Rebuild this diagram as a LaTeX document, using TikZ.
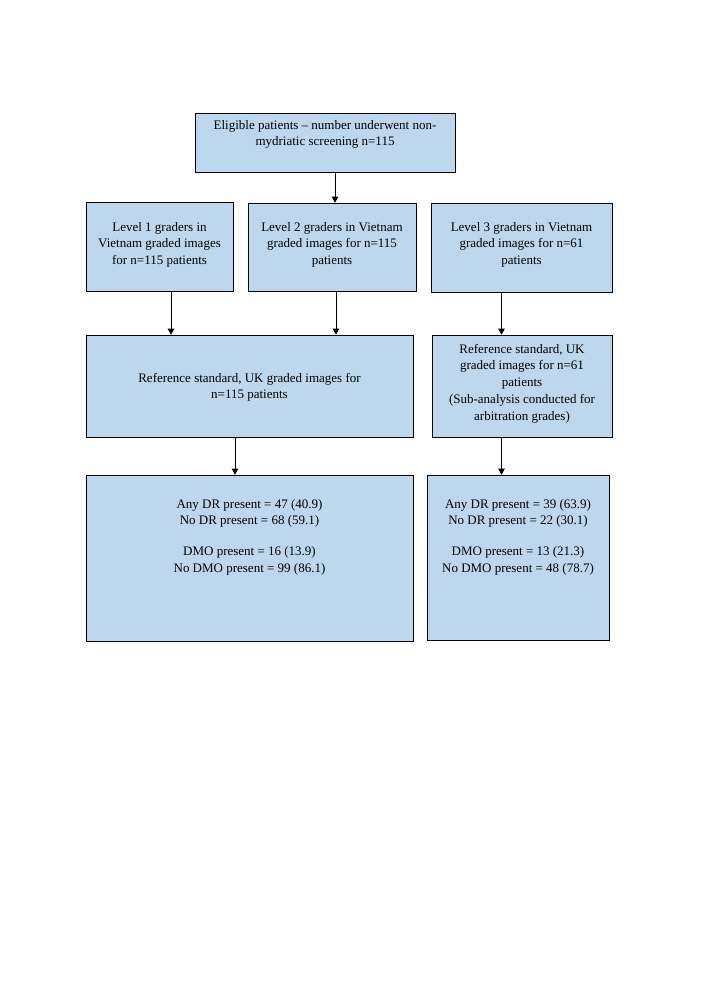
\documentclass[tikz,border=0pt]{standalone}
\usepackage{fontspec}
\setmainfont{Liberation Serif}
\usetikzlibrary{arrows.meta}
\definecolor{boxfill}{RGB}{189,215,238}
\newcommand{\bxt}[4]{\begin{minipage}[c][#2][t]{#1}\centering\fontsize{13}{16.8}\selectfont\rule{0pt}{#3}#4\end{minipage}}
\tikzset{
  box/.style={draw=black, fill=boxfill, inner sep=0pt, line width=0.7pt, anchor=center},
  arr/.style={-{Triangle[length=6pt,width=6.5pt]}, line width=0.7pt}
}
\begin{document}
\begin{tikzpicture}[x=1pt,y=-1pt]
\useasboundingbox[fill=white] (0,0) rectangle (708,1001);
\node[box] (top) at (325,142.5) {\bxt{260pt}{59pt}{16pt}{Eligible patients – number underwent non-\\mydriatic screening n=115}};
\node[box] (l1) at (159.5,246.5) {\bxt{147pt}{89pt}{29pt}{Level 1 graders in\\Vietnam graded images\\for n=115 patients}};
\node[box] (l2) at (332,247) {\bxt{168pt}{88pt}{28pt}{Level 2 graders in Vietnam\\graded images for n=115\\patients}};
\node[box] (l3) at (521.5,247.5) {\bxt{181pt}{89pt}{28pt}{Level 3 graders in Vietnam\\graded images for n=61\\patients}};
\node[box] (r1) at (249.5,386) {\bxt{327pt}{102pt}{47pt}{Reference standard, UK graded images for\\n=115 patients}};
\node[box] (r2) at (522,386) {\bxt{180pt}{102pt}{18pt}{Reference standard, UK\\graded images for n=61\\patients\\(Sub-analysis conducted for\\arbitration grades)}};
\node[box] (b1) at (249.5,558) {\bxt{327pt}{166pt}{33pt}{Any DR present = 47 (40.9)\\No DR present = 68 (59.1)\\[14pt]DMO present = 16 (13.9)\\No DMO present = 99 (86.1)}};
\node[box] (b2) at (518,557.5) {\bxt{182pt}{165pt}{33pt}{Any DR present = 39 (63.9)\\No DR present = 22 (30.1)\\[14pt]DMO present = 13 (21.3)\\No DMO present = 48 (78.7)}};
\coordinate (a0) at (335,0);
\coordinate (a1) at (171,0);
\coordinate (a2) at (336,0);
\coordinate (a3) at (501.5,0);
\coordinate (a4) at (235,0);
\draw[arr] (a0 |- top.south) -- (a0 |- l2.north);
\draw[arr] (a1 |- l1.south) -- (a1 |- r1.north);
\draw[arr] (a2 |- l2.south) -- (a2 |- r1.north);
\draw[arr] (a3 |- l3.south) -- (a3 |- r2.north);
\draw[arr] (a4 |- r1.south) -- (a4 |- b1.north);
\draw[arr] (a3 |- r2.south) -- (a3 |- b2.north);
\end{tikzpicture}
\end{document}
